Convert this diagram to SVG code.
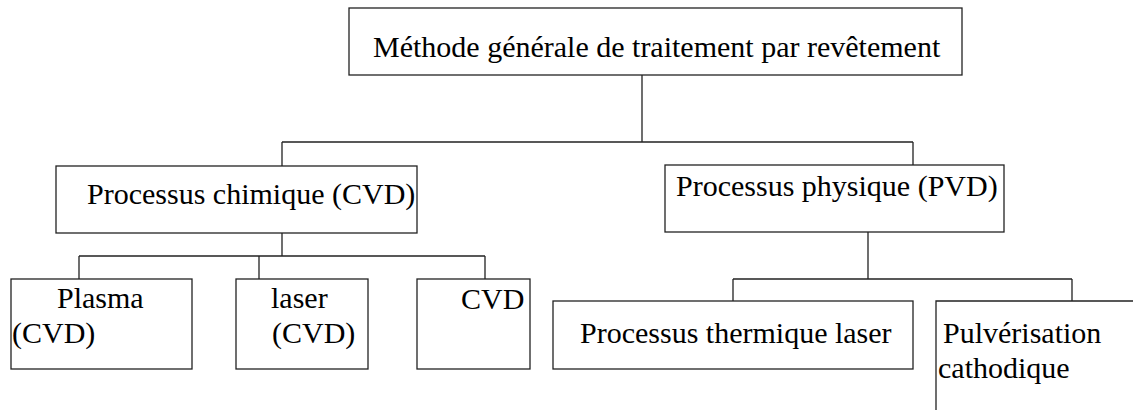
<svg xmlns="http://www.w3.org/2000/svg" width="1133" height="413" viewBox="0 0 1133 413">
<style>
.box{fill:#fff;stroke:#222;stroke-width:1.3}
.ln{fill:none;stroke:#222;stroke-width:1.3}
text{font-family:"Liberation Serif","Times New Roman",serif;font-size:30px;fill:#000}
</style>
<rect width="1133" height="413" fill="#fff"/>
<g id="connectors">
<path class="ln" d="M642 75 V142 M282 142 H913 M282 142 V166 M913 142 V165"/>
<path class="ln" d="M282 233 V256 M79 256 H485 M79 256 V279 M259 256 V279 M485 256 V279"/>
<path class="ln" d="M868 232 V279 M733 279 H1072 M733 279 V301 M1072 279 V301"/>
</g>
<g id="n-top">
<rect class="box" x="349" y="8" width="613" height="67"/>
<text x="373" y="57">Méthode générale de traitement par revêtement</text>
</g>
<g id="n-cvd">
<rect class="box" x="56" y="166" width="361" height="67"/>
<text x="87" y="204">Processus chimique (CVD)</text>
</g>
<g id="n-pvd">
<rect class="box" x="665" y="165" width="339" height="67"/>
<text x="676" y="196">Processus physique (PVD)</text>
</g>
<g id="n-plasma">
<rect class="box" x="11" y="279" width="181" height="90"/>
<text x="57" y="308">Plasma</text>
<text x="12" y="343">(CVD)</text>
</g>
<g id="n-laser">
<rect class="box" x="236" y="279" width="132" height="90"/>
<text x="271" y="308">laser</text>
<text x="272" y="343">(CVD)</text>
</g>
<g id="n-cvd2">
<rect class="box" x="417" y="279" width="113" height="90"/>
<text x="461" y="309">CVD</text>
</g>
<g id="n-thermal">
<rect class="box" x="553" y="301" width="360" height="68"/>
<text x="580" y="343">Processus thermique laser</text>
</g>
<g id="n-pulv">
<path class="ln" d="M936 410 V301 H1133"/>
<text x="943" y="343">Pulvérisation</text>
<text x="938" y="378">cathodique</text>
</g>
</svg>
